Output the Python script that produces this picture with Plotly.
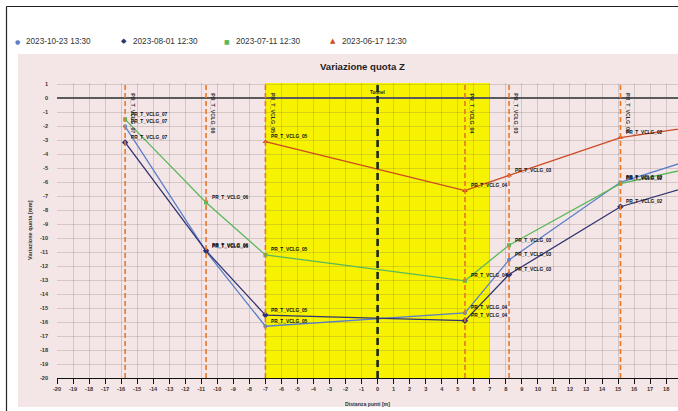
import plotly.graph_objects as go

# Monitoring stations along the section and their distance from the tunnel axis [m]
stations = ["PR_T_VCLG_07", "PR_T_VCLG_06", "PR_T_VCLG_05", "PR_T_VCLG_04",
            "PR_T_VCLG_03", "PR_T_VCLG_02", "PR_T_VCLG_01"]
distance = [-15.75, -10.7, -7.0, 5.45, 8.2, 15.15, 20.5]

# Vertical displacement [mm] per survey date
dates = ["2023-10-23 13:30", "2023-08-01 12:30", "2023-07-11 12:30", "2023-06-17 12:30"]
z_2023_10_23 = [-2.0, -10.95, -16.3, -15.35, -11.55, -6.0, -4.05]
z_2023_08_01 = [-3.15, -10.9, -15.5, -15.9, -12.6, -7.75, -5.95]
z_2023_07_11 = [-1.5, -7.45, -11.2, -13.05, -10.5, -6.1, -4.75]
z_2023_06_17 = [None, None, -3.1, -6.6, -5.5, -2.8, -1.9]

tunnel_axis = 0
tunnel_zone = [-7, 7]

x_ticks = list(range(-20, 19))
y_ticks = list(range(1, -21, -1))

series = [z_2023_10_23, z_2023_08_01, z_2023_07_11, z_2023_06_17]
colors = ["#5b7fc9", "#2f3371", "#5cb85c", "#cc4a22"]
symbols = ["circle", "diamond", "square", "triangle-up"]
msizes = [4, 5, 4, 5]
legend_glyphs = ["\u25cf", "\u25c6", "\u25a0", "\u25b2"]
legend_glyph_sizes = [6, 7, 6, 7]

PINK = "#f4e6e6"
FONT = "Liberation Sans"

W, H = 678, 411
L, R, T, B = 57, 0, 83, 33
PW, PH = W - L - R, H - T - B


def px(xp):
    return (xp - L) / PW


def py(yp):
    return (H - B - yp) / PH


fig = go.Figure()

for vals, col, sym, ms, name in zip(series, colors, symbols, msizes, dates):
    xs = [d for d, v in zip(distance, vals) if v is not None]
    ys = [v for v in vals if v is not None]
    fig.add_trace(go.Scatter(
        x=xs, y=ys, mode="lines+markers", name=name, showlegend=False,
        line=dict(color=col, width=1.3),
        marker=dict(symbol=sym, size=ms, color=col),
        cliponaxis=True,
    ))

shapes = []
# outer frame (left and top edges)
shapes.append(dict(type="line", xref="paper", yref="paper",
                   x0=px(6.5), x1=px(6.5), y0=py(6.5), y1=py(H + 5),
                   line=dict(color="#222", width=1.2)))
shapes.append(dict(type="line", xref="paper", yref="paper",
                   x0=px(6.5), x1=px(W + 5), y0=py(6.5), y1=py(6.5),
                   line=dict(color="#222", width=1.2)))
# chart panel
shapes.append(dict(type="rect", xref="paper", yref="paper", layer="below",
                   x0=px(18), x1=px(W + 30), y0=py(54), y1=py(407),
                   fillcolor=PINK, line=dict(width=0)))
# tunnel influence zone
shapes.append(dict(type="rect", xref="x", yref="y", layer="below",
                   x0=tunnel_zone[0], x1=tunnel_zone[1], y0=-20, y1=1.1,
                   fillcolor="#f6f200", line=dict(width=0)))
# station verticals
for d in distance:
    shapes.append(dict(type="line", xref="x", yref="y", x0=d, x1=d, y0=-20, y1=1.1,
                       line=dict(color="#e8782a", width=1.6, dash="5px,3px")))
# tunnel axis
shapes.append(dict(type="line", xref="x", yref="y", x0=tunnel_axis, x1=tunnel_axis,
                   y0=-20, y1=1.1,
                   line=dict(color="#1c2a1c", width=2.6, dash="7px,4px")))

annotations = []
# legend
legend_x = [17, 124, 227, 333]
for gx, g, gs, col, name in zip(legend_x, legend_glyphs, legend_glyph_sizes, colors, dates):
    annotations.append(dict(xref="paper", yref="paper", x=px(gx), y=py(41),
                            text=g, showarrow=False, xanchor="center", yanchor="middle",
                            font=dict(family="DejaVu Sans", size=gs, color=col)))
    annotations.append(dict(xref="paper", yref="paper", x=px(gx + 7), y=py(41),
                            text=name, showarrow=False, xanchor="left", yanchor="middle",
                            font=dict(family=FONT, size=8.2, color="#333")))
# title
annotations.append(dict(xref="paper", yref="paper", x=px(362), y=py(66.5),
                        text="<b>Variazione quota Z</b>", showarrow=False,
                        xanchor="center", yanchor="middle",
                        font=dict(family=FONT, size=9.6, color="#222")))
# axis titles
annotations.append(dict(xref="paper", yref="paper", x=px(367), y=py(404),
                        text="<b>Distanza punti [m]</b>", showarrow=False,
                        xanchor="center", yanchor="middle",
                        font=dict(family=FONT, size=5.2, color="#333")))
annotations.append(dict(xref="paper", yref="paper", x=px(30), y=py(230),
                        text="<b>Variazione quota [mm]</b>", showarrow=False,
                        textangle=-90, xanchor="center", yanchor="middle",
                        font=dict(family=FONT, size=5.6, color="#333")))
# tunnel label
annotations.append(dict(xref="x", yref="y", x=tunnel_axis, y=0, yshift=1,
                        text="<b>Tunnel</b>", showarrow=False,
                        xanchor="center", yanchor="bottom",
                        font=dict(family=FONT, size=4.6, color="#222")))
# station names on the verticals
for s, d in zip(stations, distance):
    if d > 18.7:
        continue
    annotations.append(dict(xref="x", yref="y", x=d, y=0, yshift=7, xshift=2,
                            text="<b>" + s + "</b>", showarrow=False, textangle=90,
                            xanchor="left", yanchor="top",
                            font=dict(family=FONT, size=5.3, color="#333")))
# point labels
for vals in series:
    for s, d, v in zip(stations, distance, vals):
        if v is None or d > 18.7:
            continue
        annotations.append(dict(xref="x", yref="y", x=d, y=v, xshift=4, yshift=5,
                                text="<b>" + s + "</b>", showarrow=False,
                                xanchor="left", yanchor="middle",
                                font=dict(family=FONT, size=4.8, color="#111")))

grid_col = "rgba(110,90,90,0.22)"
fig.update_layout(
    width=W, height=H,
    margin=dict(l=L, r=R, t=T, b=B, pad=0),
    paper_bgcolor="white",
    plot_bgcolor=PINK,
    showlegend=False,
    shapes=shapes,
    annotations=annotations,
    font=dict(family=FONT, color="#333"),
    xaxis=dict(
        range=[-20, 18.74], tickvals=x_ticks, ticktext=[str(v) for v in x_ticks],
        showgrid=True, gridcolor=grid_col, gridwidth=1, zeroline=False,
        showline=True, linecolor="#111", linewidth=1.3,
        ticks="outside", ticklen=5, tickwidth=1.2, tickcolor="#111",
        tickfont=dict(family=FONT, size=5.6, color="#333", weight="bold"),
        fixedrange=True,
    ),
    yaxis=dict(
        range=[-20, 1.1], tickvals=y_ticks, ticktext=[str(v) for v in y_ticks],
        showgrid=True, gridcolor=grid_col, gridwidth=1,
        zeroline=True, zerolinecolor="#5a5a5a", zerolinewidth=2.2,
        showline=False, ticks="", ticklabelstandoff=8,
        tickfont=dict(family=FONT, size=5.6, color="#333", weight="bold"),
        fixedrange=True,
    ),
)

fig.write_html("out.html")
